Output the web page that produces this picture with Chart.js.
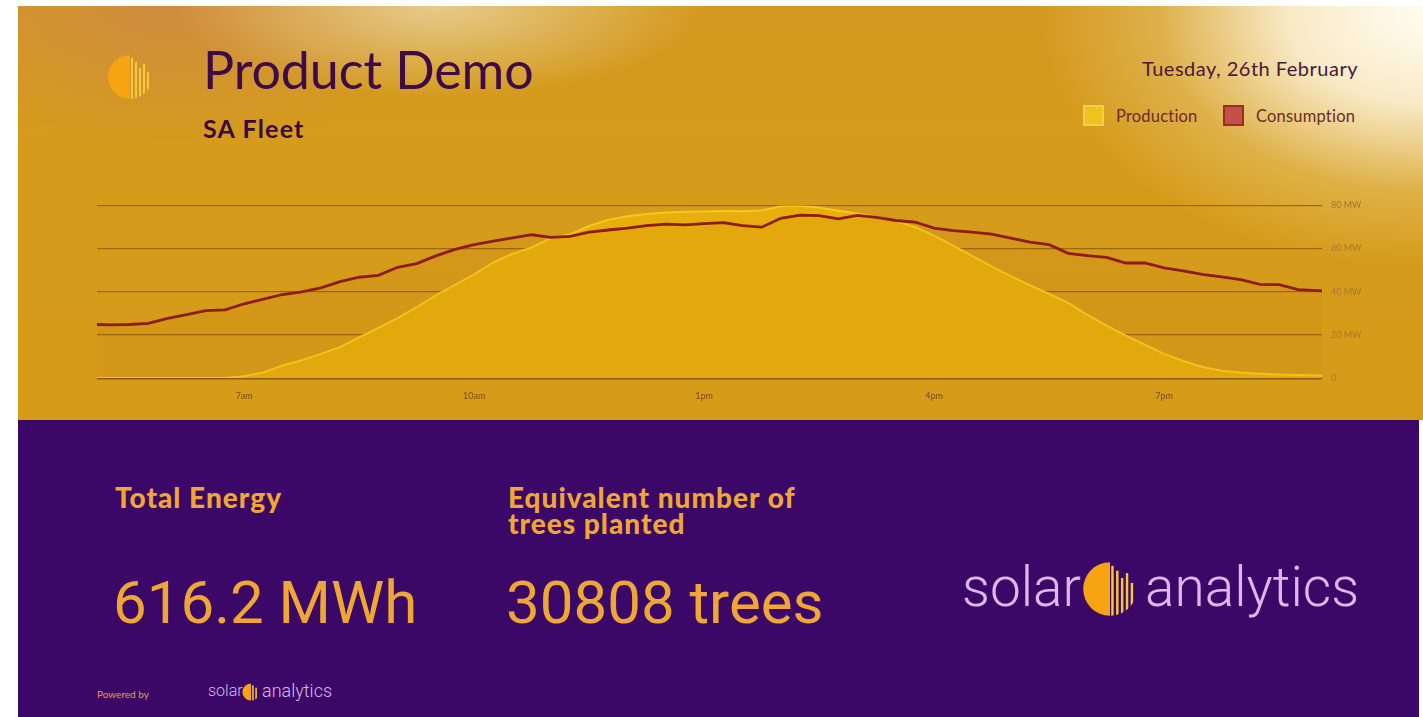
<!DOCTYPE html>
<html lang="en">
<head>
    <meta charset="UTF-8">
    <title>Product Demo</title>
    <style>
        body {
            margin: 0;
            padding: 0;
            background: #ffffff;
            width: 1423px;
            height: 717px;
            overflow: hidden;
            position: relative;
            font-family: Lato, "Open Sans", sans-serif;
        }
        #top {
            position: absolute;
            left: 18px; top: 6px;
            width: 1405px; height: 414px;
            background:
                radial-gradient(ellipse 380px 250px at 1405px 10px, rgba(255,252,240,1) 0%, rgba(255,248,228,0.85) 35%, rgba(240,215,150,0.35) 70%, rgba(213,156,27,0) 100%),
                radial-gradient(ellipse 260px 90px at 420px 0px, rgba(235,215,165,0.8) 0%, rgba(213,156,27,0) 100%),
                radial-gradient(ellipse 280px 140px at 150px 0px, rgba(205,135,75,0.7) 0%, rgba(213,156,27,0) 100%),
                linear-gradient(180deg, #d49a22 0%, #d59c1b 40%, #d59b19 100%);
        }
        #bottom {
            position: absolute;
            left: 18px; top: 420px;
            width: 1401px; height: 297px;
            background: #3b0868;
        }
        .abs { position: absolute; white-space: nowrap; }
        #title { left: 203px; top: 38px; font-size: 52px; color: #3d0c48; font-weight: 400; letter-spacing: -0.1px; }
        #sub { left: 203px; top: 113px; font-size: 25px; font-weight: 700; color: #3a0a38; letter-spacing: 1.2px; }
        #date { right: 65px; top: 56px; font-size: 20px; color: #4a1838; letter-spacing: 0.5px; }
        .leg { top: 105px; font-size: 16.5px; color: #6e2a2a; display: flex; align-items: center; }
        .leg span.box { display: inline-block; width: 21px; height: 21px; margin-right: 12px; box-sizing: border-box; }
        #legP { left: 1083px; letter-spacing: 0.2px; }
        #legC { left: 1223px; letter-spacing: 0.2px; }
        #wrap { position: absolute; left: 97px; top: 191px; width: 1290px; height: 224px; }
        .hd { font-size: 28px; font-weight: 900; color: #eea634; line-height: 26px; letter-spacing: 1px; }
        .big { font-family: Roboto, sans-serif; font-size: 60px; color: #eea634; font-weight: 400; }
        .brand { font-family: Roboto, sans-serif; font-weight: 300; color: #dcb8ef; }
    </style>
    <script src="https://cdn.jsdelivr.net/npm/chart.js@4/dist/chart.umd.min.js"></script>
</head>
<body>
<div id="top"></div>
<div id="bottom"></div>

<svg class="abs" style="left:107px;top:54px" width="46" height="46" viewBox="0 0 46 46">
    <defs><clipPath id="c1"><circle cx="23" cy="23" r="22"/></clipPath></defs>
    <g clip-path="url(#c1)">
        <rect x="0" y="0" width="23" height="46" fill="#f7a412"/>
        <rect x="24" y="4" width="2" height="42" fill="#f6c83a"/>
        <rect x="28" y="8" width="2" height="38" fill="#f6c83a"/>
        <rect x="32" y="14" width="2" height="32" fill="#f6c83a"/>
        <rect x="36" y="10" width="2" height="36" fill="#f6c83a"/>
        <rect x="40" y="18" width="2" height="28" fill="#f6c83a"/>
    </g>
</svg>
<div id="title" class="abs">Product Demo</div>
<div id="sub" class="abs">SA Fleet</div>
<div id="date" class="abs">Tuesday, 26th February</div>
<div id="legP" class="abs leg"><span class="box" style="background:#efc21c;border:2px solid #f3cf45"></span>Production</div>
<div id="legC" class="abs leg"><span class="box" style="background:#c4504a;border:2px solid #9c2a26"></span>Consumption</div>

<div id="wrap"><canvas id="chart"></canvas></div>

<div class="abs hd" style="left:115px;top:484px">Total Energy</div>
<div class="abs hd" style="left:508px;top:484px">Equivalent number of<br>trees planted</div>
<div class="abs big" style="left:113px;top:567px">616.2 MWh</div>
<div class="abs big" style="left:506px;top:567px">30808 trees</div>

<div class="abs brand" style="left:962px;top:555px;font-size:55px">solar</div>
<svg class="abs" style="left:1082px;top:561px" width="56" height="56" viewBox="0 0 46 46">
    <defs><clipPath id="c2"><circle cx="23" cy="23" r="22"/></clipPath></defs>
    <g clip-path="url(#c2)">
        <rect x="0" y="0" width="23" height="46" fill="#f7a412"/>
        <rect x="24" y="4" width="2" height="42" fill="#f6c83a"/>
        <rect x="28" y="8" width="2" height="38" fill="#f6c83a"/>
        <rect x="32" y="14" width="2" height="32" fill="#f6c83a"/>
        <rect x="36" y="10" width="2" height="36" fill="#f6c83a"/>
        <rect x="40" y="18" width="2" height="28" fill="#f6c83a"/>
    </g>
</svg>
<div class="abs brand" style="left:1145px;top:555px;font-size:55px">analytics</div>

<div class="abs" style="left:97px;top:688px;font-size:10px;color:#e2a040">Powered by</div>
<div class="abs brand" style="left:208px;top:681px;font-size:16px">solar</div>
<svg class="abs" style="left:242px;top:683px" width="18" height="18" viewBox="0 0 46 46">
    <defs><clipPath id="c3"><circle cx="23" cy="23" r="22"/></clipPath></defs>
    <g clip-path="url(#c3)">
        <rect x="0" y="0" width="23" height="46" fill="#f7a412"/>
        <rect x="26" y="6" width="4" height="40" fill="#f6c83a"/>
        <rect x="34" y="12" width="4" height="34" fill="#f6c83a"/>
    </g>
</svg>
<div class="abs brand" style="left:262px;top:680px;font-size:18px">analytics</div>

<script>
    // hours of day (about 5am .. 9pm, every 15 min)
    const times = [5.08, 5.25, 5.5, 5.75, 6, 6.25, 6.5, 6.75, 7, 7.25, 7.5, 7.75, 8, 8.25, 8.5, 8.75,
        9, 9.25, 9.5, 9.75, 10, 10.25, 10.5, 10.75, 11, 11.25, 11.5, 11.75, 12, 12.25, 12.5, 12.75,
        13, 13.25, 13.5, 13.75, 14, 14.25, 14.5, 14.75, 15, 15.25, 15.5, 15.75, 16, 16.25, 16.5, 16.75,
        17, 17.25, 17.5, 17.75, 18, 18.25, 18.5, 18.75, 19, 19.25, 19.5, 19.75, 20, 20.25, 20.5, 20.75, 21.06];

    // MW
    const production = [0, 0, 0, 0, 0, 0, 0, 0, 0.8, 2.6, 5.8, 8.2, 11.2, 14.3, 18.8, 23.2,
        27.8, 32.8, 38.3, 43.2, 48.0, 53.6, 57.6, 60.5, 64.8, 66.5, 70.5, 73.3, 75.0, 76.0, 76.7, 77.0,
        77.2, 77.4, 77.3, 77.6, 79.6, 79.8, 79.0, 77.5, 76.2, 74.6, 72.6, 70.0, 66.0, 61.4, 56.5, 51.7,
        47.2, 43.0, 39.0, 34.8, 29.3, 24.3, 19.6, 15.4, 11.2, 7.9, 5.1, 3.4, 2.5, 2.0, 1.6, 1.4, 1.2];

    const consumption = [24.8, 24.6, 24.8, 25.3, 27.6, 29.4, 31.2, 31.6, 34.4, 36.6, 38.7, 39.9, 41.8, 44.7, 46.7, 47.6,
        51.3, 53.0, 56.6, 59.6, 61.8, 63.4, 65.0, 66.4, 65.2, 65.6, 67.6, 68.6, 69.5, 70.6, 71.3, 71.0,
        71.6, 72.0, 70.6, 69.9, 74.0, 75.5, 75.3, 73.8, 75.4, 74.4, 73.0, 72.3, 69.5, 68.3, 67.6, 66.7,
        64.8, 63.0, 61.8, 57.8, 56.7, 55.9, 53.3, 53.3, 51.0, 49.7, 48.0, 46.9, 45.6, 43.4, 43.3, 41.0, 40.4];

    const tickHours = [7, 10, 13, 16, 19];
    const tickLabels = ['7am', '10am', '1pm', '4pm', '7pm'];
    const yTicks = [0, 20, 40, 60, 80];
    const yTickLabels = ['0', '20 MW', '40 MW', '60 MW', '80 MW'];

    const toPts = (vals) => times.map((t, i) => ({ x: t, y: vals[i] }));

    new Chart(document.getElementById('chart'), {
        type: 'line',
        data: {
            datasets: [
                {
                    label: 'Consumption',
                    data: toPts(consumption),
                    borderColor: '#8e1b0b',
                    borderWidth: 2.8,
                    fill: 'origin',
                    backgroundColor: 'rgba(150,80,0,0.05)',
                    pointRadius: 0,
                    tension: 0,
                    order: 1
                },
                {
                    label: 'Production',
                    data: toPts(production),
                    borderColor: '#f6c81e',
                    borderWidth: 2,
                    fill: 'origin',
                    backgroundColor: '#e7ae0d',
                    pointRadius: 0,
                    tension: 0,
                    order: 2
                }
            ]
        },
        options: {
            responsive: true,
            maintainAspectRatio: false,
            animation: false,
            layout: { padding: { top: 6, left: 0, right: 0, bottom: 0 } },
            plugins: { legend: { display: false }, tooltip: { enabled: false } },
            scales: {
                x: {
                    type: 'linear',
                    min: 5.08,
                    max: 21.06,
                    afterBuildTicks: (s) => { s.ticks = tickHours.map(v => ({ value: v })); },
                    afterFit: (s) => { s.height = 37; },
                    grid: { display: false, drawTicks: false },
                    border: { display: false },
                    ticks: {
                        padding: 13,
                        color: '#7e4a16',
                        font: { size: 9, family: 'Lato' },
                        callback: (v) => tickLabels[tickHours.indexOf(v)]
                    }
                },
                y: {
                    position: 'right',
                    min: 0,
                    max: 80,
                    afterBuildTicks: (s) => { s.ticks = yTicks.map(v => ({ value: v })); },
                    afterFit: (s) => { s.width = 65; },
                    border: { display: false },
                    grid: {
                        drawTicks: false,
                        color: (c) => c.tick && c.tick.value === 0 ? '#8c5a0e' : 'rgba(140,85,10,0.75)',
                        lineWidth: (c) => c.tick && c.tick.value === 0 ? 2.5 : 1.3
                    },
                    ticks: {
                        padding: 9,
                        color: '#a8782c',
                        font: { size: 9, family: 'Lato' },
                        callback: (v) => yTickLabels[yTicks.indexOf(v)]
                    }
                }
            }
        }
    });
</script>
</body>
</html>
